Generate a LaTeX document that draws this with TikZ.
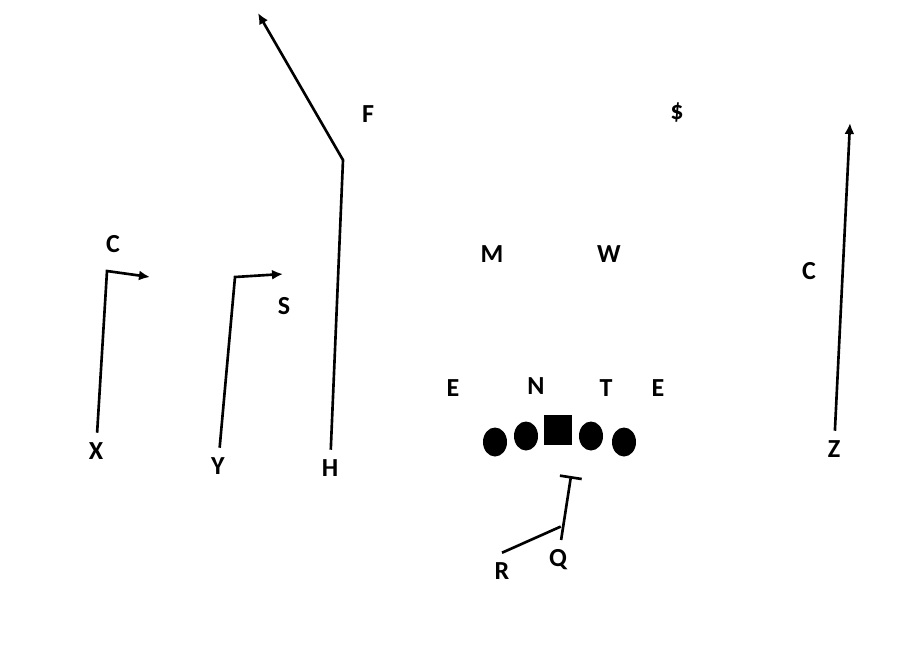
\documentclass[tikz,border=0pt]{standalone}
\usepackage{fontspec}
\setmainfont{Carlito}
\usetikzlibrary{arrows.meta,shapes.geometric,calc}

\tikzset{
  plyr/.style={font=\fontsize{7.4}{9}\selectfont\bfseries, inner sep=2.6pt},
  lmn/.style={ellipse, fill=black, minimum width=0.24cm, minimum height=0.29cm, inner sep=0pt},
  snap/.style={rectangle, fill=black, minimum width=0.28cm, minimum height=0.3cm, inner sep=0pt},
  route/.style={line width=0.75pt, ->},
}

\begin{document}
\begin{tikzpicture}[x=0.01cm, y=-0.01cm, >={Latex[length=1.1mm, width=1mm]}]
    \useasboundingbox (0,0) rectangle (900,650);

    % defense
    \node[plyr] (F)  at (368,114) {F};
    \node[plyr] (SS) at (677,113) {\$};
    \node[plyr] (C1) at (113,244) {C};
    \node[plyr] (M)  at (492,254) {M};
    \node[plyr] (W)  at (609,254) {W};
    \node[plyr] (C2) at (809,271) {C};
    \node[plyr] (S)  at (284,306) {S};
    \node[plyr] (E1) at (453,388) {E};
    \node[plyr] (N)  at (536,386) {N};
    \node[plyr] (T)  at (606,388) {T};
    \node[plyr] (E2) at (658,388) {E};

    % offense
    \node[lmn]  (lt)  at (495,442) {};
    \node[lmn]  (lg)  at (526,436) {};
    \node[snap] (ctr) at (558,430) {};
    \node[lmn]  (rg)  at (591,436) {};
    \node[lmn]  (rt)  at (624,442) {};

    \node[plyr] (X) at (96,451)  {X};
    \node[plyr] (Y) at (218,466) {Y};
    \node[plyr] (H) at (330,468) {H};
    \node[plyr] (Z) at (834,449) {Z};
    \node[plyr] (R) at (502,571) {R};
    \node[plyr] (Q) at (558,560) {Q};

    % routes
    \coordinate (xc) at (107,271);
    \coordinate (xe) at (150,277);
    \coordinate (yc) at (235,277);
    \coordinate (ye) at (283,274);
    \coordinate (hc) at (343,160);
    \coordinate (he) at (258,13);
    \coordinate (ze) at (850,123);
    \coordinate (qb) at (571,476);
    \coordinate (qj) at ($(Q.north)!0.21!(qb)$);

    \draw[route] (X) -- (xc) -- (xe);
    \draw[route] (Y) -- (yc) -- (ye);
    \draw[route] (H) -- (hc) -- (he);
    \draw[route] (Z) -- (ze);
    \draw[line width=0.75pt, -{Bar[width=2.2mm]}] (Q) -- (qb);
    \draw[line width=0.75pt] (R.north) -- (qj);
\end{tikzpicture}
\end{document}
